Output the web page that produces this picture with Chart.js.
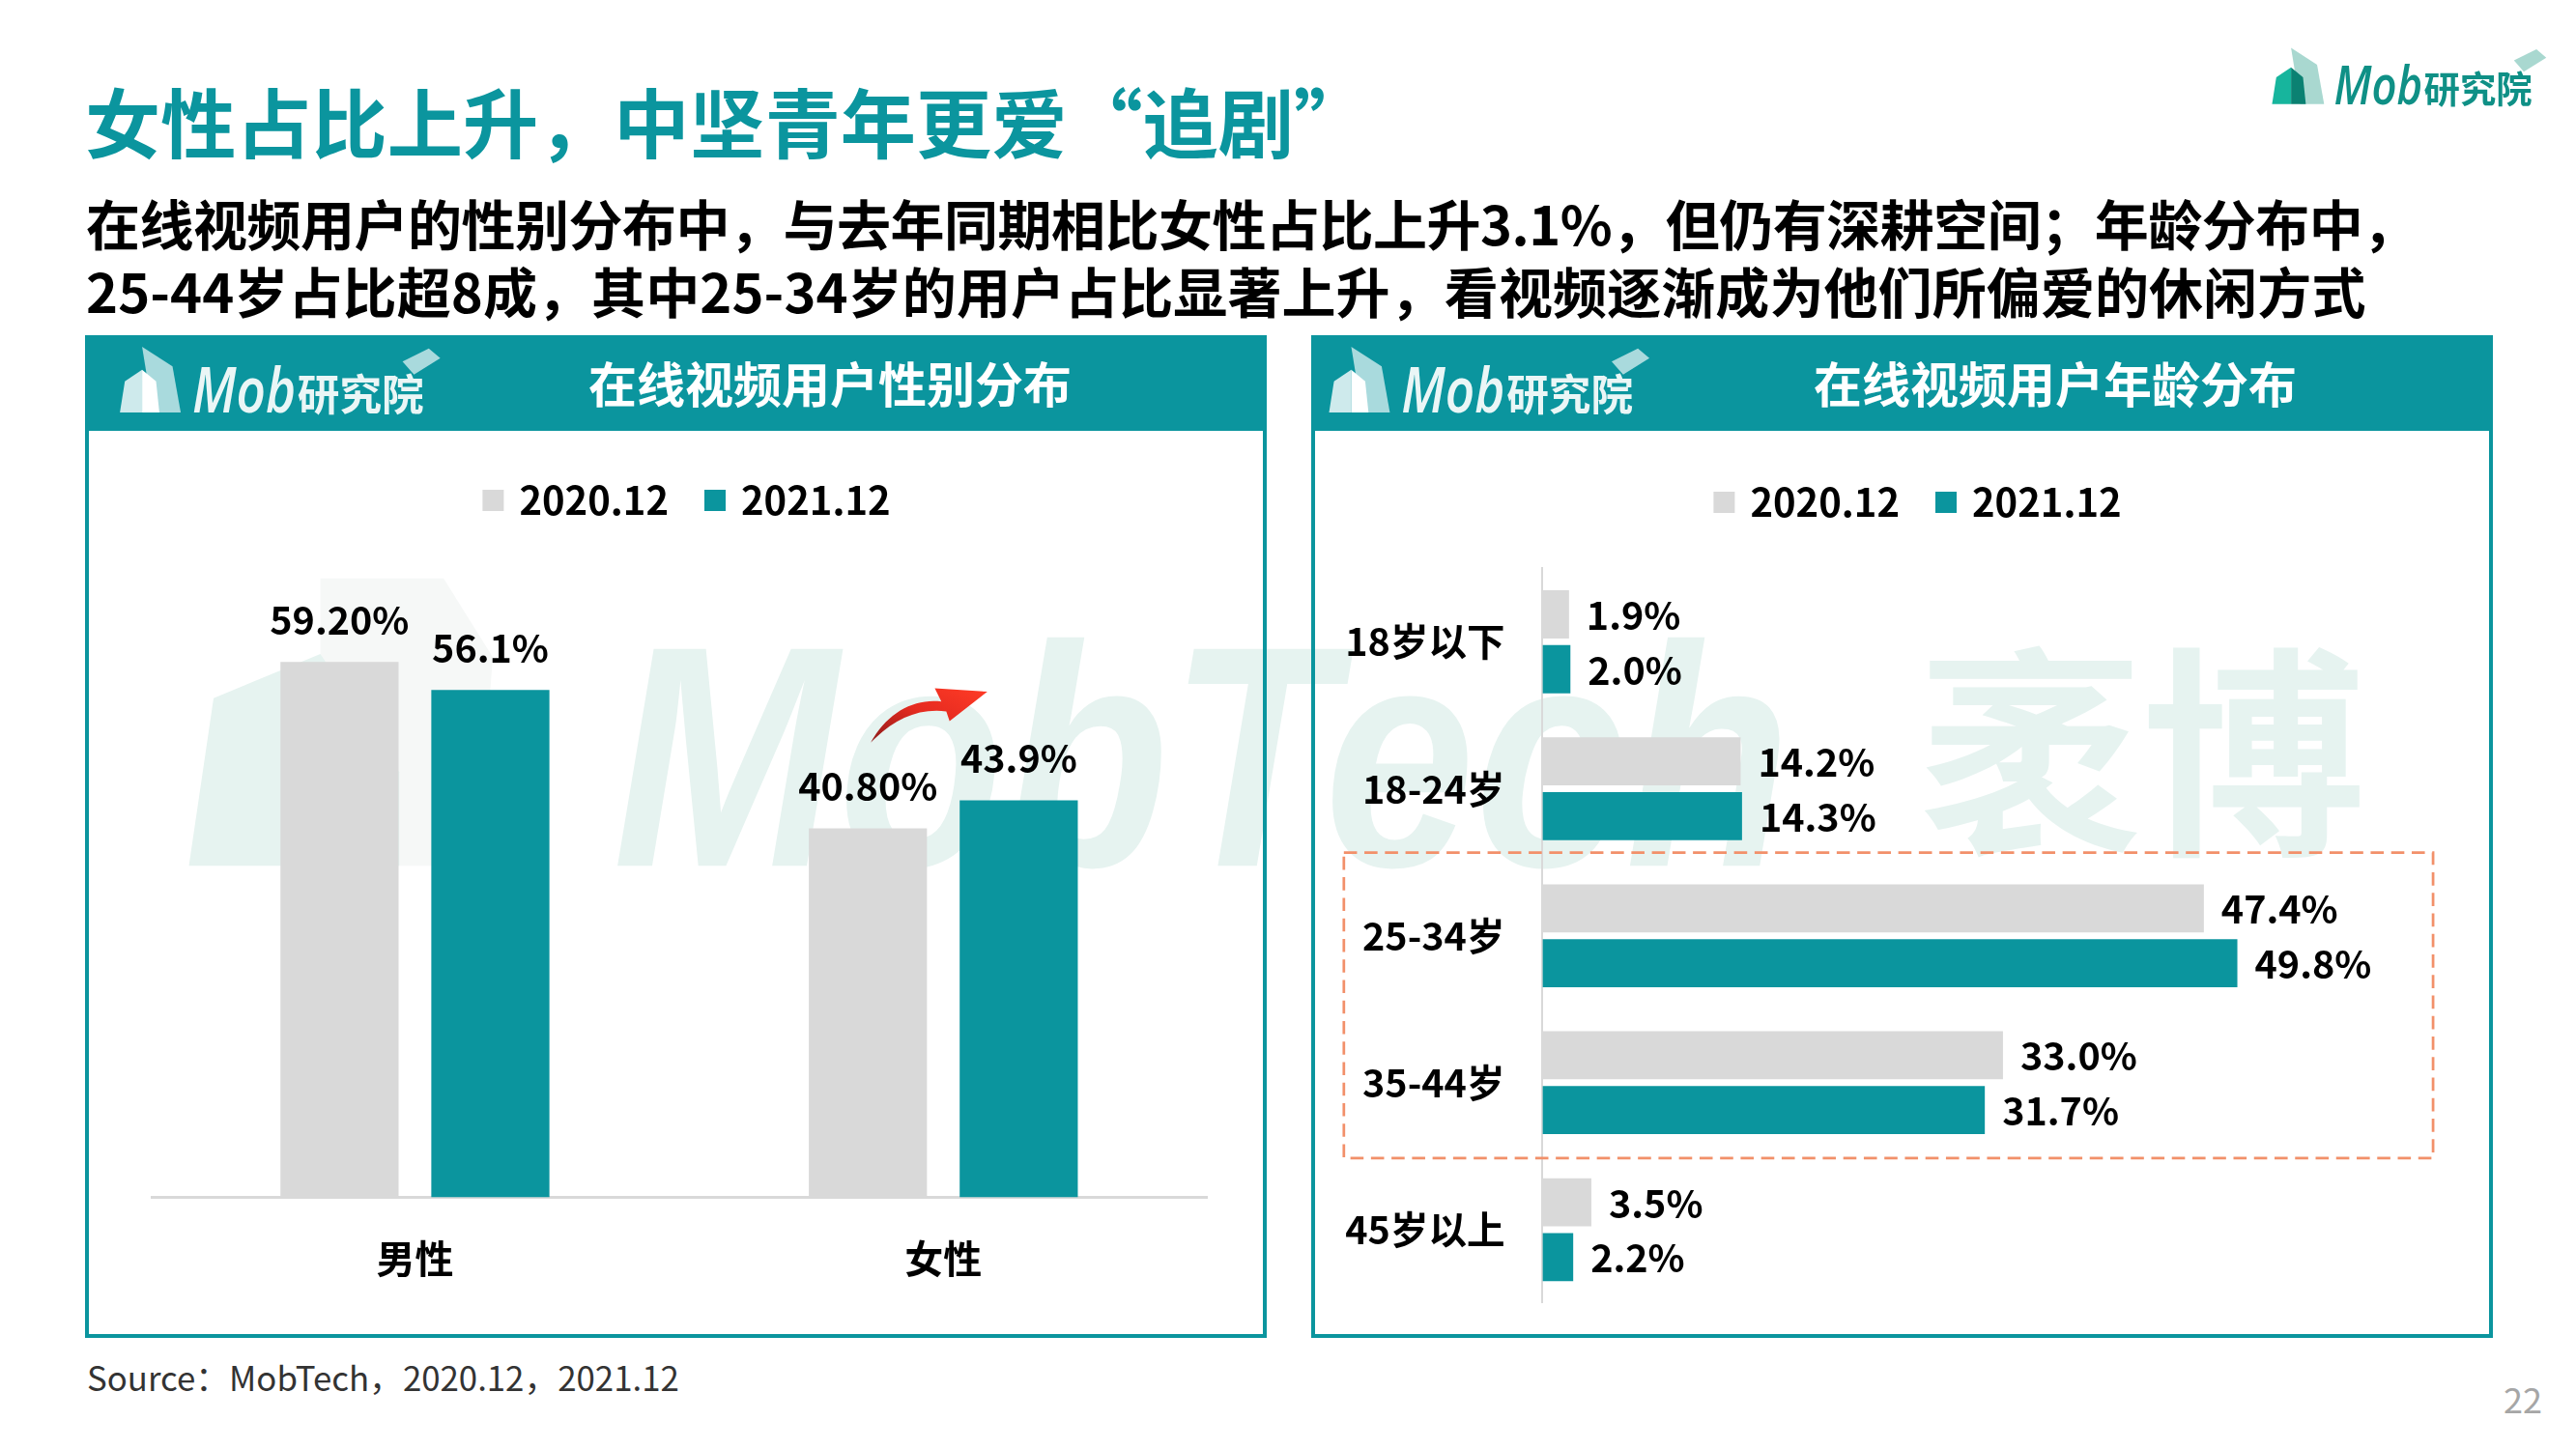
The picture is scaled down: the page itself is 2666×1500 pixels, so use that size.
<!DOCTYPE html>
<html lang="zh">
<head>
<meta charset="utf-8">
<script src="https://cdn.jsdelivr.net/npm/chart.js@4"></script>
<style>
  html, body { margin: 0; padding: 0; background: #fff; }
  #page { position: relative; width: 2666px; height: 1500px; overflow: hidden; font-family: "Noto Sans CJK SC", sans-serif; }
  .txt { position: absolute; white-space: nowrap; line-height: 1; }
  .panel { position: absolute; top: 347px; width: 1223px; height: 1038px; box-sizing: border-box; border: 4px solid #0b959e; }
  .head { position: absolute; top: 347px; width: 1223px; height: 99px; background: #0b959e; }
  canvas { position: absolute; }
  svg { position: absolute; left: 0; top: 0; }
</style>
</head>
<body>
<div id="page">
  <svg id="under" width="2666" height="1500" viewBox="0 0 1568 882">
    <polygon points="195,352 270,352 300,400 290,527 195,527" fill="#f6f8f7"/>
    <polygon points="115,527 130,425 195,398 243,470 243,527" fill="#e6f3f0"/>
    <text x="373" y="527" font-family="Liberation Sans" font-weight="700" font-style="italic" font-size="192" textLength="717" lengthAdjust="spacingAndGlyphs" fill="#e6f3f0">MobTech</text>
    <text x="1168" y="510" font-family="Noto Sans CJK SC" font-weight="700" font-size="136" fill="#e6f3f0">袤博</text>
  </svg>

  <div class="panel" style="left:88px"></div>
  <div class="panel" style="left:1357px"></div>
  <div class="head" style="left:88px"></div>
  <div class="head" style="left:1357px"></div>

  <div class="txt" style="left:88px;top:85px;font-size:78.2px;font-weight:700;color:#0b959e">女性占比上升，中坚青年更爱“追剧”</div>
  <div class="txt" style="left:89px;top:202px;font-size:56px;font-weight:700;color:#000;letter-spacing:-0.5px">在线视频用户的性别分布中，与去年同期相比女性占比上升3.1%，但仍有深耕空间；年龄分布中，</div>
  <div class="txt" style="left:89px;top:272px;font-size:56px;font-weight:700;color:#000;letter-spacing:0.1px">25-44岁占比超8成，其中25-34岁的用户占比显著上升，看视频逐渐成为他们所偏爱的休闲方式</div>
  <div class="txt" style="left:859px;top:370px;transform:translateX(-50%);font-size:50px;font-weight:700;color:#fff">在线视频用户性别分布</div>
  <div class="txt" style="left:2127px;top:370px;transform:translateX(-50%);font-size:50px;font-weight:700;color:#fff">在线视频用户年龄分布</div>
  <div class="txt" style="left:90px;top:1408px;font-size:34.8px;color:#333">Source：MobTech，2020.12，2021.12</div>
  <div class="txt" style="left:2591px;top:1429px;font-size:36px;color:#a6a6a6">22</div>

  <canvas id="genderChart" width="1113" height="931" style="left:156px;top:445px"></canvas>
  <canvas id="ageChart" width="1253" height="904" style="left:1360px;top:445px"></canvas>

  <svg id="over" width="2666" height="1500" viewBox="0 0 1568 882">
    <defs>
      <linearGradient id="arrowFill" x1="0" y1="1" x2="1" y2="0">
        <stop offset="0" stop-color="#8e1a1a"/>
        <stop offset="0.5" stop-color="#e52b20"/>
        <stop offset="1" stop-color="#ff3b26"/>
      </linearGradient>
    </defs>
    <rect x="818" y="519" width="663" height="186" fill="none" stroke="#f2906a" stroke-width="1.6" stroke-dasharray="8 4.5"/>
    <path d="M530,452 C540,434 556,425 573,427 L569,419 L601,421 L578,439 L576,433 C558,431 544,438 530,452 Z" fill="url(#arrowFill)"/>
  </svg>
</div>

<script>
const genderLabels = ["男性", "女性"];
const gender2020 = [59.2, 40.8];
const gender2021 = [56.1, 43.9];
const genderText2020 = ["59.20%", "40.80%"];
const genderText2021 = ["56.1%", "43.9%"];

const ageLabels = ["18岁以下", "18-24岁", "25-34岁", "35-44岁", "45岁以上"];
const age2020 = [1.9, 14.2, 47.4, 33.0, 3.5];
const age2021 = [2.0, 14.3, 49.8, 31.7, 2.2];

const seriesNames = ["2020.12", "2021.12"];
const GREY = "#d9d9d9";
const TEAL = "#0b959e";
const FONT = "'Noto Sans CJK SC', sans-serif";

Chart.defaults.font.family = FONT;
Chart.defaults.color = "#000";

// value labels, no datalabels plugin in the page
function valueLabels(textsFor, horizontal) {
    return {
        id: "valueLabels",
        afterDatasetsDraw(chart) {
            const ctx = chart.ctx;
            ctx.save();
            ctx.font = "700 39.5px " + FONT;
            ctx.fillStyle = "#000";
            ctx.textBaseline = "middle";
            chart.data.datasets.forEach(function (ds, i) {
                chart.getDatasetMeta(i).data.forEach(function (bar, j) {
                    if (horizontal) {
                        ctx.textAlign = "left";
                        ctx.fillText(textsFor(i, j), bar.x + 18, bar.y + 1);
                    } else {
                        ctx.textAlign = "center";
                        ctx.fillText(textsFor(i, j), bar.x, bar.y - 43);
                    }
                });
            });
            ctx.restore();
        }
    };
}

// thick stroke makes the swatch bigger without pushing the text away
const legendOptions = {
    position: "top",
    labels: {
        boxWidth: 14,
        boxHeight: 14,
        padding: 41,
        font: { size: 40, weight: "700" },
        color: "#000",
        generateLabels(chart) {
            return chart.data.datasets.map(function (ds, i) {
                return {
                    text: ds.label,
                    fillStyle: ds.backgroundColor,
                    strokeStyle: ds.backgroundColor,
                    lineWidth: 8,
                    datasetIndex: i
                };
            });
        }
    }
};

new Chart(document.getElementById("genderChart"), {
    type: "bar",
    data: {
        labels: genderLabels,
        datasets: [
            { label: seriesNames[0], data: gender2020, backgroundColor: GREY, categoryPercentage: 0.571, barPercentage: 0.783 },
            { label: seriesNames[1], data: gender2021, backgroundColor: TEAL, categoryPercentage: 0.571, barPercentage: 0.783 }
        ]
    },
    options: {
        responsive: false,
        animation: false,
        layout: { padding: { top: 12, right: 0, left: 0, bottom: 0 } },
        plugins: { legend: legendOptions, tooltip: { enabled: false } },
        scales: {
            x: {
                grid: { display: false, drawTicks: false },
                border: { color: GREY, width: 3 },
                ticks: { padding: 39, font: { size: 40, weight: "700" }, color: "#000" },
                afterFit(scale) { scale.height = 136.5; }
            },
            y: {
                // hidden axis on the right keeps the legend centred where it belongs
                position: "right",
                min: 0,
                max: 73.85,
                grid: { display: false, drawTicks: false },
                border: { display: false },
                ticks: { display: false },
                afterFit(scale) { scale.width = 19.3; }
            }
        }
    },
    plugins: [valueLabels(function (i, j) {
        return i === 0 ? genderText2020[j] : genderText2021[j];
    }, false)]
});

new Chart(document.getElementById("ageChart"), {
    type: "bar",
    data: {
        labels: ageLabels,
        datasets: [
            { label: seriesNames[0], data: age2020, backgroundColor: GREY, categoryPercentage: 0.746, barPercentage: 0.877 },
            { label: seriesNames[1], data: age2021, backgroundColor: TEAL, categoryPercentage: 0.746, barPercentage: 0.877 }
        ]
    },
    options: {
        indexAxis: "y",
        responsive: false,
        animation: false,
        layout: { padding: { top: 14, right: 0, left: 0, bottom: 0 } },
        plugins: { legend: legendOptions, tooltip: { enabled: false } },
        scales: {
            x: {
                position: "top",
                min: 0,
                max: 70.4,
                grid: { display: false, drawTicks: false },
                border: { display: false },
                ticks: { display: false },
                afterFit(scale) { scale.height = 38.3; }
            },
            y: {
                grid: { display: false, drawTicks: false },
                border: { color: GREY, width: 2 },
                ticks: { padding: 39, font: { size: 39.5, weight: "700" }, color: "#000", autoSkip: false },
                afterFit(scale) {
                    scale.width = 236.4;
                    // tick padding otherwise eats into the plot height
                    scale.paddingTop = 0;
                    scale.paddingBottom = 0;
                }
            }
        }
    },
    plugins: [valueLabels(function (i, j) {
        return (i === 0 ? age2020[j] : age2021[j]).toFixed(1) + "%";
    }, true)]
});

// the Mob logo shows up three times
function addLogo(x, y, scale, colors) {
    const g = document.createElementNS("http://www.w3.org/2000/svg", "g");
    g.setAttribute("transform", "translate(" + x + "," + y + ") scale(" + scale + ")");
    g.innerHTML =
        '<polygon points="13.5,0 32,12 37,40 20,40" fill="' + colors.back + '"/>' +
        '<polygon points="0,40 3,21 13.5,14 13.5,40" fill="' + colors.front + '"/>' +
        '<polygon points="13.5,14 22,21 24,40 13.5,40" fill="' + colors.mid + '"/>' +
        '<polygon points="172,9 188,1 195,7 179,17" fill="' + colors.back + '"/>' +
        '<text x="44" y="40" font-family="Open Sans" font-weight="600" font-style="italic" font-size="38" textLength="63" lengthAdjust="spacingAndGlyphs" fill="' + colors.text + '">Mob</text>' +
        '<text x="108" y="39" font-family="Noto Sans CJK SC" font-weight="700" font-size="26" textLength="77" lengthAdjust="spacingAndGlyphs" fill="' + colors.text + '">研究院</text>';
    document.getElementById("over").appendChild(g);
}

const whiteLogo = { back: "rgba(255,255,255,0.65)", front: "rgba(255,255,255,0.8)", mid: "#ffffff", text: "#eaf6f6" };
addLogo(73, 211, 1, whiteLogo);
addLogo(809, 211, 1, whiteLogo);
addLogo(1383, 29, 0.856, { back: "#a9d8d0", front: "#17b59d", mid: "#0b8172", text: "#0f9086" });
</script>
</body>
</html>
